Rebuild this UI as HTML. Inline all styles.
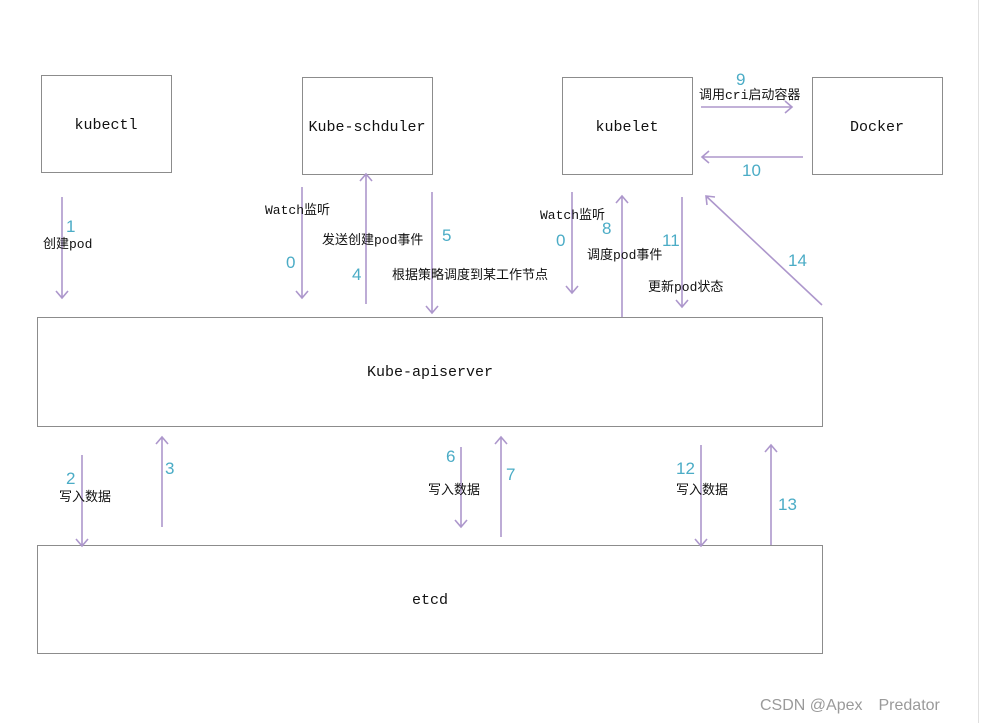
<!DOCTYPE html>
<html><head><meta charset="utf-8"><style>
html,body{margin:0;padding:0;background:#fff;}
svg{display:block;}
.b{fill:#fff;stroke:#8c8c8c;stroke-width:1;}
.t{font-family:"Liberation Mono","Noto Sans CJK SC",monospace;font-size:15px;fill:#111;text-anchor:middle;}
.c{font-family:"Liberation Mono","Noto Sans CJK SC",monospace;font-size:13px;fill:#111;}
.n{font-family:"Liberation Sans",sans-serif;font-size:17px;fill:#4bacc6;}
.a{stroke:#ad97cc;stroke-width:1.6;fill:none;}
</style></head><body>
<svg width="981" height="723" viewBox="0 0 981 723" xmlns="http://www.w3.org/2000/svg">
<line x1="978.5" y1="0" x2="978.5" y2="723" stroke="#e0e0e0"/>
<rect class="b" x="41.5" y="75.5" width="130" height="97"/>
<rect class="b" x="302.5" y="77.5" width="130" height="97"/>
<rect class="b" x="562.5" y="77.5" width="130" height="97"/>
<rect class="b" x="812.5" y="77.5" width="130" height="97"/>
<rect class="b" x="37.5" y="317.5" width="785" height="109"/>
<rect class="b" x="37.5" y="545.5" width="785" height="108"/>
<text class="t" x="106" y="129">kubectl</text>
<text class="t" x="367" y="131">Kube-schduler</text>
<text class="t" x="627" y="131">kubelet</text>
<text class="t" x="877" y="131">Docker</text>
<text class="t" x="430" y="376">Kube-apiserver</text>
<text class="t" x="430" y="604">etcd</text>
<g class="a">
<path d="M62 197V298M56 291L62 298L68 291"/>
<path d="M302 187V298M296 291L302 298L308 291"/>
<path d="M366 304V174M360 181L366 174L372 181"/>
<path d="M432 192V313M426 306L432 313L438 306"/>
<path d="M572 192V293M566 286L572 293L578 286"/>
<path d="M622 317V196M616 203L622 196L628 203"/>
<path d="M682 197V307M676 300L682 307L688 300"/>
<path d="M822 305L706 196M707 205L706 196L715 197"/>
<path d="M701 107H792M785 101L792 107L785 113"/>
<path d="M803 157H702M709 151L702 157L709 163"/>
<path d="M82 455V546M76 539L82 546L88 539"/>
<path d="M162 527V437M156 444L162 437L168 444"/>
<path d="M461 447V527M455 520L461 527L467 520"/>
<path d="M501 537V437M495 444L501 437L507 444"/>
<path d="M701 445V546M695 539L701 546L707 539"/>
<path d="M771 545V445M765 452L771 445L777 452"/>
</g>
<text class="n" x="66" y="232">1</text>
<text class="n" x="286" y="268">0</text>
<text class="n" x="352" y="280">4</text>
<text class="n" x="442" y="241">5</text>
<text class="n" x="556" y="246">0</text>
<text class="n" x="602" y="234">8</text>
<text class="n" x="662" y="246">11</text>
<text class="n" x="788" y="266">14</text>
<text class="n" x="736" y="85">9</text>
<text class="n" x="742" y="176">10</text>
<text class="n" x="66" y="484">2</text>
<text class="n" x="165" y="474">3</text>
<text class="n" x="446" y="462">6</text>
<text class="n" x="506" y="480">7</text>
<text class="n" x="676" y="474">12</text>
<text class="n" x="778" y="510">13</text>
<text class="c" x="43" y="248">创建pod</text>
<text class="c" x="265" y="214">Watch监听</text>
<text class="c" x="322" y="244">发送创建pod事件</text>
<text class="c" x="392" y="279">根据策略调度到某工作节点</text>
<text class="c" x="540" y="219">Watch监听</text>
<text class="c" x="587" y="259">调度pod事件</text>
<text class="c" x="648" y="291">更新pod状态</text>
<text class="c" x="699" y="99">调用cri启动容器</text>
<text class="c" x="59" y="501">写入数据</text>
<text class="c" x="428" y="494">写入数据</text>
<text class="c" x="676" y="494">写入数据</text>
<text x="760" y="710" style="font-family:'Liberation Sans',sans-serif;font-size:16px;fill:#9a9a9a;">CSDN @Apex　Predator</text>
</svg>
</body></html>
